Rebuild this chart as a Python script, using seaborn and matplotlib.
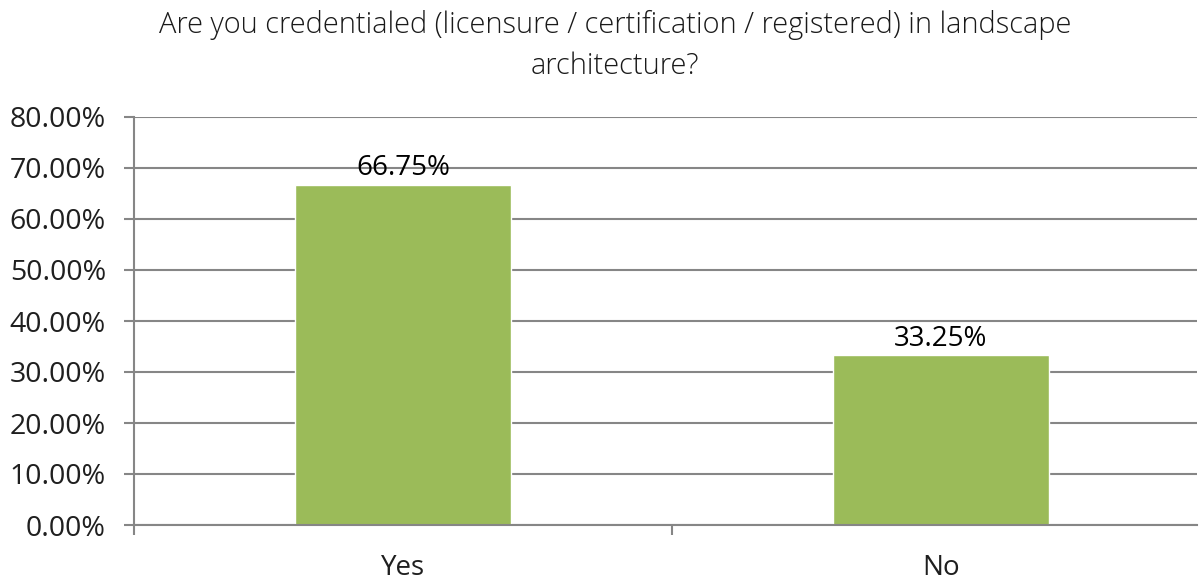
import matplotlib
matplotlib.use("Agg")
import matplotlib.pyplot as plt
import pandas as pd
import seaborn as sns

# Data
answers = ["Yes", "No"]
shares = [66.75, 33.25]
value_labels = ["66.75%", "33.25%"]
y_ticks = [0, 10, 20, 30, 40, 50, 60, 70, 80]
y_tick_labels = ["0.00%", "10.00%", "20.00%", "30.00%", "40.00%",
                 "50.00%", "60.00%", "70.00%", "80.00%"]
title = "Are you credentialed (licensure / certification / registered) in landscape\narchitecture?"

df = pd.DataFrame({"answer": answers, "share": shares})

sns.set_style("white")
plt.rcParams["font.family"] = ["Open Sans", "DejaVu Sans"]

grid_col = "#868686"
W, H = 1200, 584
fig = plt.figure(figsize=(W / 100, H / 100), dpi=100)
ax = fig.add_axes([134 / W, (H - 525) / H, (1197 - 134) / W, (525 - 117) / H])

sns.barplot(data=df, x="answer", y="share", color="#9BBB59", width=0.4,
            saturation=1, ax=ax, zorder=2)

ax.set_yticks(y_ticks)
ax.set_yticklabels(y_tick_labels)
ax.set_xticks([-0.5, 0.5, 1.5], minor=True)
ax.set_ylim(0, 80)
ax.set_xlim(-0.5, 1.476)
ax.yaxis.grid(True, color=grid_col, linewidth=1.5, zorder=0)
ax.set_axisbelow(True)

for s in ["top", "right"]:
    ax.spines[s].set_visible(False)
for s in ["left", "bottom"]:
    ax.spines[s].set_color(grid_col)
    ax.spines[s].set_linewidth(1.5)

ax.tick_params(axis="y", direction="out", length=7.2, width=1.5, color=grid_col,
               pad=13, labelsize=20.5, labelcolor="#1f1f1f", left=True)
ax.tick_params(axis="x", which="major", length=0, pad=21, labelsize=20,
               labelcolor="#1f1f1f")
ax.tick_params(axis="x", which="minor", direction="out", length=7.2, width=1.5,
               color=grid_col, bottom=True)
ax.set_xlabel("")
ax.set_ylabel("")

ax.bar_label(ax.containers[0], labels=value_labels, padding=2, fontsize=20,
             color="black", zorder=5)

fig.text(615 / W, 1 - 10 / H, title, ha="center", va="top", fontsize=20.9,
         fontweight="light", color="#1a1a1a", linespacing=1.5)

fig.savefig("out.png", dpi=100)
